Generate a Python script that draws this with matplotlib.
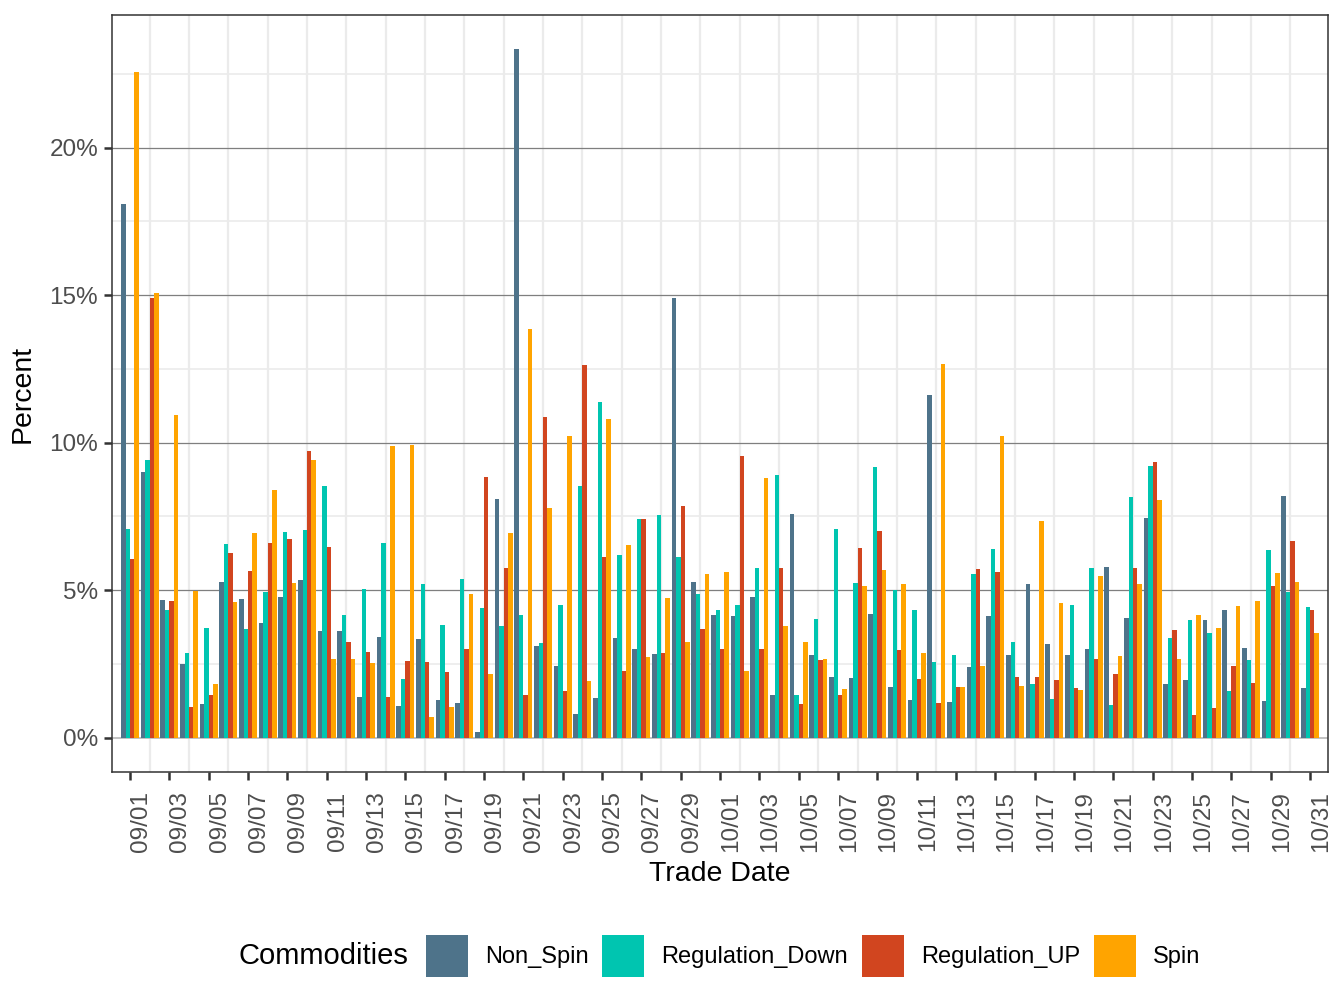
import matplotlib.pyplot as plt
import numpy as np
import pandas as pd

plt.rcParams['font.family'] = ['Liberation Sans', 'DejaVu Sans']

dates = pd.date_range('2020-09-01', '2020-10-31', freq='D')
commodities = ['Non_Spin', 'Regulation_Down', 'Regulation_UP', 'Spin']
colors = ['#4E738A', '#00C5B0', '#D1451F', '#FFA400']

non_spin = [18.1, 8.99, 4.65, 2.48, 1.13, 5.27, 4.70, 3.87, 4.76, 5.34,
            3.61, 3.61, 1.37, 3.40, 1.07, 3.34, 1.27, 1.16, 0.18, 8.08,
            23.34, 3.09, 2.42, 0.79, 1.34, 3.37, 3.00, 2.82, 14.89, 5.27,
            4.15, 4.12, 4.76, 1.46, 7.58, 2.79, 2.07, 2.01, 4.18, 1.71,
            1.27, 11.60, 1.20, 2.38, 4.12, 2.79, 5.20, 3.17, 2.79, 3.00,
            5.78, 4.04, 7.44, 1.81, 1.95, 3.98, 4.31, 3.03, 1.23, 8.19,
            1.68]
reg_down = [7.06, 9.41, 4.34, 2.87, 3.70, 6.55, 3.67, 4.92, 6.97, 7.03,
            8.52, 4.15, 5.03, 6.59, 1.98, 5.20, 3.81, 5.37, 4.39, 3.78,
            4.15, 3.20, 4.48, 8.52, 11.37, 6.19, 7.41, 7.55, 6.11, 4.86,
            4.34, 4.48, 5.75, 8.90, 1.43, 4.01, 7.06, 5.23, 9.16, 5.00,
            4.34, 2.56, 2.79, 5.53, 6.39, 3.23, 1.81, 1.30, 4.48, 5.75,
            1.10, 8.16, 9.21, 3.37, 3.98, 3.54, 1.57, 2.62, 6.36, 4.92,
            4.42]
reg_up = [6.05, 14.92, 4.62, 1.04, 1.43, 6.25, 5.64, 6.59, 6.72, 9.71,
          6.45, 3.23, 2.90, 1.37, 2.59, 2.56, 2.21, 3.00, 8.83, 5.75,
          1.43, 10.87, 1.57, 12.62, 6.11, 2.26, 7.41, 2.87, 7.85, 3.67,
          3.00, 9.54, 3.00, 5.75, 1.13, 2.62, 1.43, 6.42, 7.00, 2.96,
          1.98, 1.16, 1.71, 5.70, 5.61, 2.04, 2.04, 1.95, 1.68, 2.65,
          2.15, 5.75, 9.33, 3.64, 0.76, 0.99, 2.42, 1.84, 5.14, 6.66,
          4.34]
spin = [22.56, 15.06, 10.93, 4.97, 1.81, 4.59, 6.94, 8.41, 5.23, 9.41,
        2.68, 2.65, 2.52, 9.88, 9.91, 0.69, 1.04, 4.86, 2.15, 6.94,
        13.87, 7.80, 10.24, 1.91, 10.79, 6.52, 2.73, 4.73, 3.23, 5.53,
        5.61, 2.26, 8.80, 3.78, 3.23, 2.65, 1.65, 5.14, 5.67, 5.20,
        2.87, 12.65, 1.71, 2.42, 10.21, 1.74, 7.33, 4.56, 1.60, 5.47,
        2.76, 5.20, 8.05, 2.68, 4.15, 3.70, 4.45, 4.62, 5.58, 5.27,
        3.54]
series = [non_spin, reg_down, reg_up, spin]

fig = plt.figure(figsize=(13.44, 10.08), dpi=100)
ax = fig.add_axes([112/1344, 1-772/1008, (1328-112)/1344, (772-15)/1008])

x = np.arange(len(dates))
w = 0.9/4
for i, (vals, c, lab) in enumerate(zip(series, colors, commodities)):
    ax.bar(x - 0.45 + w*(i+0.5), vals, width=w, color=c, label=lab, zorder=3, linewidth=0)

ax.set_xlim(-0.915, 60.915)
ax.set_ylim(-1.167, 24.5)

# grid
for v in np.arange(2.5, 25, 5):
    ax.axhline(v, color='#EBEBEB', lw=1.2, zorder=1)
for d in x[1::2]:
    ax.axvline(d, color='#EBEBEB', lw=1.6, zorder=1)
ax.axhline(0, color='#BDBDBD', lw=1.3, zorder=2)
for v in [5, 10, 15, 20]:
    ax.axhline(v, color='#7F7F7F', lw=0.9, zorder=2)

ax.set_yticks([0, 5, 10, 15, 20])
ax.set_yticklabels(['0%', '5%', '10%', '15%', '20%'])
ax.set_xticks(x[::2])
ax.set_xticklabels([d.strftime('%m/%d') for d in dates[::2]], rotation=90, ha='left')
ax.tick_params(axis='both', labelsize=17.5, labelcolor='#4D4D4D', color='#333333',
               length=6, width=1.8)
ax.tick_params(axis='x', pad=8)
ax.tick_params(axis='y', pad=4)
for s in ax.spines.values():
    s.set_color('#333333')
    s.set_linewidth(1.1)

ax.set_xlabel('Trade Date', fontsize=20.5, labelpad=6)
ax.set_ylabel('Percent', fontsize=20.5, labelpad=10)

fig.text(408/1344, 1-956/1008, 'Commodities', fontsize=21, ha='right', va='center')
fig.legend(loc='center left', bbox_to_anchor=(426/1344, 1-956/1008), ncol=4,
           frameon=False, fontsize=17, handlelength=1.78, handleheight=2.36,
           handletextpad=0.72, columnspacing=0.58, borderpad=0, borderaxespad=0)

fig.savefig('out.png', dpi=100)
